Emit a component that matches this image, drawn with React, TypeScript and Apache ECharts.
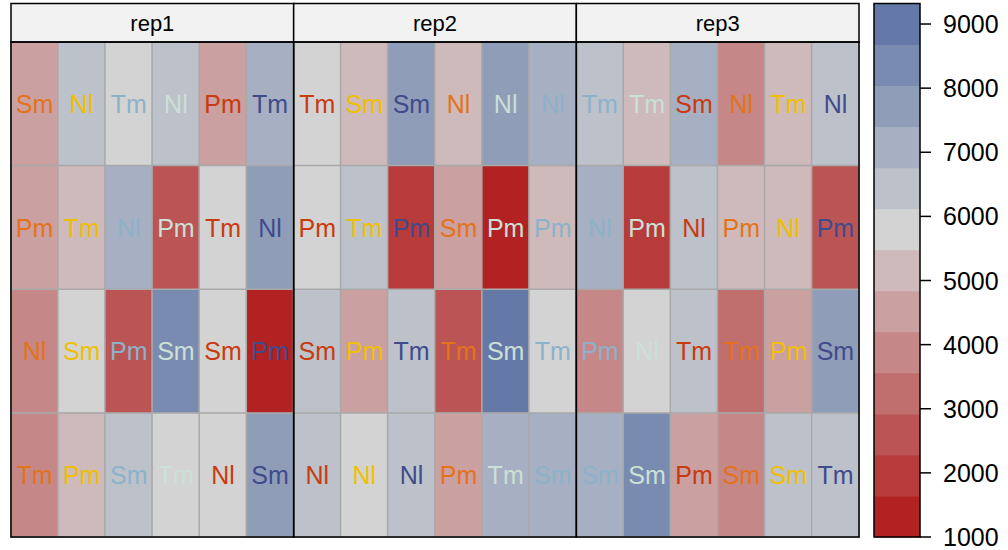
import React, { useEffect, useRef } from 'react';
import * as echarts from 'echarts';

// ---------- data ----------
const reps = ['rep1', 'rep2', 'rep3'];
const columnIds = ['1', '2', '3', '4', '5', '6'];
const rowIds = ['1', '2', '3', '4'];

const varietyNames = ['V1', 'V2', 'V3', 'V4', 'V5', 'V6'];
const varietyColors = ['#E3731A', '#EFC000', '#8CB2C9', '#CBE0D6', '#C93A0E', '#404B8B'];

// variety (text colour) of each column, per replicate
const rep1Varieties = [0, 1, 2, 3, 4, 5];
const rep2Varieties = [4, 1, 5, 0, 3, 2];
const rep3Varieties = [2, 3, 4, 0, 1, 5];

const rep1Treatments = [
  ['Sm', 'Nl', 'Tm', 'Nl', 'Pm', 'Tm'],
  ['Pm', 'Tm', 'Nl', 'Pm', 'Tm', 'Nl'],
  ['Nl', 'Sm', 'Pm', 'Sm', 'Sm', 'Pm'],
  ['Tm', 'Pm', 'Sm', 'Tm', 'Nl', 'Sm'],
];
const rep2Treatments = [
  ['Tm', 'Sm', 'Sm', 'Nl', 'Nl', 'Nl'],
  ['Pm', 'Tm', 'Pm', 'Sm', 'Pm', 'Pm'],
  ['Sm', 'Pm', 'Tm', 'Tm', 'Sm', 'Tm'],
  ['Nl', 'Nl', 'Nl', 'Pm', 'Tm', 'Sm'],
];
const rep3Treatments = [
  ['Tm', 'Tm', 'Sm', 'Nl', 'Tm', 'Nl'],
  ['Nl', 'Pm', 'Nl', 'Pm', 'Nl', 'Pm'],
  ['Pm', 'Nl', 'Tm', 'Tm', 'Pm', 'Sm'],
  ['Sm', 'Sm', 'Pm', 'Sm', 'Sm', 'Tm'],
];

const rep1Yield = [
  [4520, 6440, 5800, 6380, 4560, 7090],
  [4480, 5150, 7050, 2600, 5820, 7720],
  [3900, 5790, 2650, 8350, 5760, 1000],
  [3880, 5180, 6420, 5830, 5850, 7690],
];
const rep2Yield = [
  [5790, 5120, 7700, 5160, 7740, 7060],
  [5810, 6450, 1950, 4510, 1120, 5140],
  [6400, 4490, 6420, 2610, 9310, 5780],
  [6390, 5800, 6410, 4530, 7080, 7030],
];
const rep3Yield = [
  [6430, 5170, 7070, 3880, 5130, 6460],
  [7040, 1960, 6400, 5150, 5170, 2620],
  [3900, 5810, 6430, 3240, 4500, 7710],
  [7060, 8360, 4520, 3890, 6440, 6410],
];

const bandBreaks = [1000, 1640, 2280, 2920, 3560, 4200, 4840, 5480, 6120, 6760, 7400, 8040, 8680, 9320];
const bandColors = [
  '#B22222', '#B73B3B', '#BB5555', '#C06E6E', '#C58787', '#CAA0A0', '#CEBABA',
  '#D3D3D3', '#BDC1CA', '#A7AFC2', '#909DB9', '#7A8BB1', '#6479A8',
];
const colorTicks = [1000, 2000, 3000, 4000, 5000, 6000, 7000, 8000, 9000];

// ---------- layout ----------
const FONT = 'Liberation Sans, Arial, Helvetica, sans-serif';
const L = 11;
const R = 859;
const TOP = 3.5;
const STRIP_B = 42;
const BOTTOM = 537;
const PW = (R - L) / 3;
const CB_X = 874;
const CB_W = 46;

export default function App() {
  const ref = useRef<HTMLDivElement>(null);

  useEffect(() => {
    document.body.style.margin = '0';
    if (!ref.current) return;
    const chart = echarts.init(ref.current, undefined, { renderer: 'svg' });

    const treatments = [rep1Treatments, rep2Treatments, rep3Treatments];
    const yields = [rep1Yield, rep2Yield, rep3Yield];
    const varieties = [rep1Varieties, rep2Varieties, rep3Varieties];

    const grids: any[] = [];
    const xAxes: any[] = [];
    const yAxes: any[] = [];
    const series: any[] = [];
    const graphics: any[] = [];

    reps.forEach((rep, p) => {
      grids.push({ left: L + p * PW, top: STRIP_B, width: PW, height: BOTTOM - STRIP_B });
      xAxes.push({ type: 'category', gridIndex: p, data: columnIds, show: false });
      yAxes.push({ type: 'category', gridIndex: p, data: rowIds, inverse: true, show: false });
      const data: any[] = [];
      rowIds.forEach((_, r) => {
        columnIds.forEach((__, c) => {
          const v = varieties[p][c];
          data.push({
            value: [c, r, yields[p][r][c]],
            name: treatments[p][r][c],
            variety: varietyNames[v],
            label: { color: varietyColors[v] },
          });
        });
      });
      series.push({
        type: 'heatmap',
        name: rep,
        xAxisIndex: p,
        yAxisIndex: p,
        data,
        itemStyle: { borderColor: '#A9A9A9', borderWidth: 1.5 },
        label: {
          show: true,
          formatter: (prm: any) => prm.name,
          fontSize: 25,
          fontFamily: FONT,
        },
        emphasis: { disabled: true },
      });
      // strip
      graphics.push({
        type: 'rect',
        shape: { x: L + p * PW, y: TOP, width: PW, height: STRIP_B - TOP },
        style: { fill: '#F2F2F2', stroke: '#000', lineWidth: 1.5 },
        z: 100,
      });
      graphics.push({
        type: 'text',
        x: L + p * PW + PW / 2,
        y: (TOP + STRIP_B) / 2 + 1,
        style: {
          text: rep,
          fill: '#000',
          font: `22px ${FONT}`,
          align: 'center',
          verticalAlign: 'middle',
        },
        z: 101,
      });
      // panel border
      graphics.push({
        type: 'rect',
        shape: { x: L + p * PW, y: STRIP_B, width: PW, height: BOTTOM - STRIP_B },
        style: { fill: 'none', stroke: '#000', lineWidth: 1.5 },
        z: 100,
      });
    });

    // colour bar
    const cbIndex = reps.length;
    grids.push({ left: CB_X, top: TOP, width: CB_W, height: BOTTOM - TOP });
    xAxes.push({ type: 'value', gridIndex: cbIndex, min: 0, max: 1, show: false });
    yAxes.push({
      type: 'value',
      gridIndex: cbIndex,
      min: bandBreaks[0],
      max: bandBreaks[bandBreaks.length - 1],
      position: 'right',
      splitLine: { show: false },
      axisLine: { show: false },
      axisTick: { show: false },
      axisLabel: {
        color: '#000',
        fontSize: 25,
        fontFamily: FONT,
        margin: 23,
        customValues: colorTicks,
        formatter: (v: number) => String(v),
      },
    });
    series.push({
      type: 'custom',
      xAxisIndex: cbIndex,
      yAxisIndex: cbIndex,
      silent: true,
      clip: false,
      data: bandColors.map((_, i) => [bandBreaks[i], bandBreaks[i + 1], i]),
      renderItem: (params: any, api: any) => {
        const lo = api.value(0);
        const hi = api.value(1);
        const idx = api.value(2);
        const p0 = api.coord([0, lo]);
        const p1 = api.coord([1, hi]);
        return {
          type: 'rect',
          shape: { x: p0[0], y: p1[1], width: p1[0] - p0[0], height: p0[1] - p1[1] + 0.5 },
          style: { fill: bandColors[idx] },
        };
      },
    });
    // tick marks of the colour key
    series.push({
      type: 'custom',
      xAxisIndex: cbIndex,
      yAxisIndex: cbIndex,
      silent: true,
      clip: false,
      z: 10,
      data: colorTicks.map((v) => [1, v]),
      renderItem: (params: any, api: any) => {
        const pt = api.coord([1, api.value(1)]);
        return {
          type: 'line',
          shape: { x1: pt[0], y1: pt[1], x2: pt[0] + 11, y2: pt[1] },
          style: { stroke: '#000', lineWidth: 1.5 },
        };
      },
    });
    graphics.push({
      type: 'rect',
      shape: { x: CB_X, y: TOP, width: CB_W, height: BOTTOM - TOP },
      style: { fill: 'none', stroke: '#000', lineWidth: 1.5 },
      z: 100,
    });

    chart.setOption({
      animation: false,
      backgroundColor: '#fff',
      grid: grids,
      xAxis: xAxes,
      yAxis: yAxes,
      visualMap: {
        type: 'piecewise',
        show: false,
        seriesIndex: [0, 1, 2],
        dimension: 2,
        pieces: bandColors.map((c, i) =>
          i === bandColors.length - 1
            ? { gte: bandBreaks[i], lte: bandBreaks[i + 1], color: c }
            : { gte: bandBreaks[i], lt: bandBreaks[i + 1], color: c }
        ),
      },
      series,
      graphic: graphics,
    });

    return () => chart.dispose();
  }, []);

  return <div ref={ref} style={{ width: 1008, height: 550 }} />;
}
